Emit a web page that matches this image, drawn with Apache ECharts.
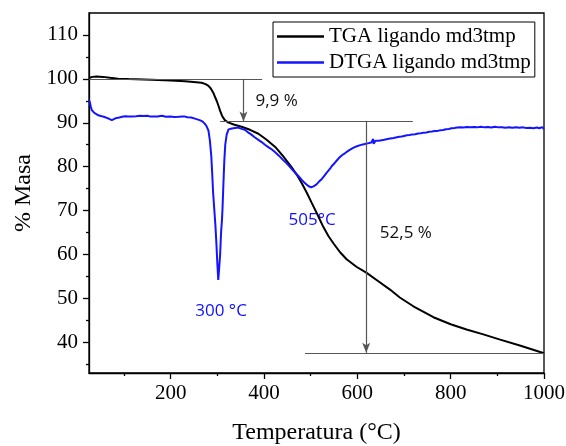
<!DOCTYPE html>
<html>
<head>
<meta charset="utf-8">
<script src="https://cdn.jsdelivr.net/npm/echarts@6/dist/echarts.min.js"></script>
<style>
html,body{margin:0;padding:0;background:#fff;}
#chart{width:566px;height:446px;}
</style>
</head>
<body>
<div id="chart"></div>
<script>
// ---- data ----
const seriesNames = ['TGA ligando md3tmp', 'DTGA ligando md3tmp'];

const tga = [[25,100.2],[32,100.45],[41,100.55],[55,100.45],[70,100.25],[87,100.05],[110,99.95],[159,99.8],[200,99.6],[231,99.45],[255,99.25],[266,99.1],[275,98.8],[281,98.4],[286,97.8],[291,96.9],[295,95.9],[299,94.9],[303,93.7],[306,92.7],[310,91.6],[316,90.6],[323,90.1],[335,89.6],[352,89.1],[370,88.4],[388,87.5],[405,86.2],[424,84.5],[440,82.5],[459,79.9],[470,78.2],[481,76.2],[492,74.0],[502,71.8],[515,69.0],[527,66.3],[538,64.2],[549,62.5],[563,60.5],[577,58.9],[598,57.2],[620,55.8],[645,53.9],[670,52.0],[691,50.2],[720,48.2],[763,45.7],[800,44.1],[834,42.9],[870,41.8],[906,40.6],[950,39.2],[1000,37.5]];

const dtga = [[25,95.2],[27,94.6],[29,93.6],[31,92.9],[35,92.4],[40,92.0],[45,91.7],[52,91.5],[58,91.3],[63,91.1],[68,90.9],[74,90.6],[78,90.7],[84,91.1],[90,91.2],[96,91.35],[102,91.5],[106,91.3],[110,91.45],[114,91.6],[118,91.45],[122,91.6],[126,91.5],[130,91.35],[134,91.6],[138,91.45],[142,91.55],[146,91.4],[150,91.6],[155,91.45],[159,91.55],[164,91.4],[168,91.6],[172,91.45],[176,91.4],[181,91.6],[185,91.5],[190,91.35],[194,91.55],[199,91.4],[203,91.45],[208,91.3],[212,91.5],[217,91.35],[221,91.3],[226,91.45],[231,91.4],[236,91.25],[240,91.2],[244,91.2],[248,91.1],[252,90.95],[255,90.8],[262,90.6],[268,90.3],[273,89.8],[277,89.2],[281,88.2],[284,86.0],[287,82.5],[289,78.5],[291,74.0],[294,69.5],[296,66.4],[298,62.5],[300,58.0],[302,54.2],[304,57.0],[306,60.0],[308,65.0],[310,68.0],[311,70.2],[313,76.0],[315,81.5],[317,85.0],[320,87.3],[324,88.5],[327,88.8],[331,88.7],[334,88.95],[338,88.8],[341,88.7],[345,88.9],[348,88.7],[352,88.6],[355,88.45],[359,88.4],[363,88.05],[366,87.8],[370,87.6],[373,87.3],[377,87.1],[380,86.7],[384,86.5],[388,86.1],[391,85.95],[395,85.6],[399,85.4],[402,85.0],[406,84.85],[410,84.4],[413,84.25],[417,83.9],[421,83.6],[424,83.3],[428,83.0],[432,82.5],[436,82.15],[440,81.6],[444,81.3],[448,80.8],[452,80.45],[455,80.0],[461,79.3],[468,78.5],[475,77.7],[481,77.0],[488,76.2],[495,75.6],[501,75.3],[506,75.5],[512,75.9],[518,76.6],[524,77.2],[530,78.0],[534,78.6],[538,79.0],[542,79.6],[545,80.1],[549,80.4],[552,80.9],[556,81.4],[560,81.9],[564,82.2],[567,82.6],[571,82.8],[574,83.1],[578,83.5],[582,83.7],[586,84.0],[590,84.2],[594,84.35],[598,84.6],[602,84.7],[606,84.9],[610,85.0],[614,85.1],[618,85.25],[622,85.3],[626,85.45],[630,85.5],[632,85.6],[634,86.3],[635,85.2],[637,85.4],[639,85.9],[642,85.85],[646,85.9],[650,86.0],[655,86.05],[660,86.2],[665,86.3],[670,86.4],[675,86.45],[680,86.6],[685,86.7],[690,86.8],[695,86.85],[700,87.0],[706,87.15],[712,87.2],[718,87.35],[724,87.4],[730,87.55],[736,87.6],[742,87.75],[748,87.8],[754,87.95],[760,88.0],[766,88.1],[772,88.15],[778,88.3],[784,88.35],[790,88.5],[796,88.6],[802,88.75],[808,88.8],[814,88.9],[820,88.95],[827,88.9],[835,89.05],[842,88.95],[850,89.05],[857,88.95],[865,89.1],[872,88.95],[880,89.05],[887,88.9],[895,89.1],[902,88.95],[910,89.0],[917,88.85],[925,88.95],[932,88.85],[940,89.0],[947,88.85],[955,88.95],[962,88.8],[970,88.85],[977,88.75],[985,88.9],[990,88.75],[993,88.7],[996,89.0],[1000,88.6]];

const xMajorTicks = [200, 400, 600, 800, 1000];
const xMinorTicks = [100, 300, 500, 700, 900];
const yMajorTicks = [40, 50, 60, 70, 80, 90, 100, 110];
const yMinorTicks = [35, 45, 55, 65, 75, 85, 95, 105];

// annotation geometry (data coordinates)
const refLines = [
  [[25, 100], [396, 100]],
  [[306, 90.3], [719, 90.3]],
  [[488, 37.6], [1000, 37.6]]
];
const arrows = [
  [[356, 100], [356, 90.3]],
  [[619, 90.3], [619, 37.6]]
];
const tempLabels = [['300 °C', 308, 47.0], ['505°C', 503, 67.9]];
const lossLabels = [['9,9 %', 427, 94.9], ['52,5 %', 704, 64.9]];

// ---- chart ----
const chart = echarts.init(document.getElementById('chart'), null, {renderer: 'canvas'});
const serif = 'Liberation Serif';
const sans = 'Open Sans';

const markLineData = [];
refLines.forEach(l => markLineData.push([{coord: l[0], symbol: 'none'}, {coord: l[1], symbol: 'none'}]));
arrows.forEach(l => markLineData.push([{coord: l[0], symbol: 'none'}, {coord: l[1], symbol: 'arrow', symbolSize: [6, 10]}]));

const plainNum = v => String(v);

const option = {
  animation: false,
  backgroundColor: '#fff',
  grid: {left: 89, right: 22, top: 13, bottom: 73, show: true, borderColor: '#000', borderWidth: 1.3, backgroundColor: 'transparent', containLabel: false, outerBoundsMode: 'none'},
  legend: {
    data: seriesNames,
    orient: 'vertical',
    left: 273, top: 22,
    padding: [4, 4, 4, 4],
    itemGap: 5,
    itemWidth: 47, itemHeight: 2.5,
    icon: 'rect',
    borderColor: '#000', borderWidth: 1,
    textStyle: {fontFamily: serif, fontSize: 21, color: '#000'}
  },
  xAxis: [{
    type: 'value', min: 25, max: 1000,
    name: 'Temperatura (°C)', nameLocation: 'middle', nameGap: 48,
    nameTextStyle: {fontFamily: serif, fontSize: 24, color: '#000'},
    axisLine: {show: true, lineStyle: {color: '#000', width: 1.3}},
    axisTick: {show: true, inside: false, length: 6, customValues: xMajorTicks, lineStyle: {color: '#000', width: 1.3}},
    axisLabel: {customValues: xMajorTicks, formatter: plainNum, fontFamily: serif, fontSize: 21, color: '#000', margin: 10},
    splitLine: {show: false}
  }, {
    type: 'value', min: 25, max: 1000, position: 'bottom', gridIndex: 0,
    axisLine: {show: false},
    axisTick: {show: true, inside: false, length: 3, customValues: xMinorTicks, lineStyle: {color: '#000', width: 1.3}},
    axisLabel: {show: false},
    splitLine: {show: false}
  }],
  yAxis: [{
    type: 'value', min: 33, max: 115,
    name: '% Masa', nameLocation: 'middle', nameGap: 53, nameRotate: 90,
    nameTextStyle: {fontFamily: serif, fontSize: 24, color: '#000'},
    axisLine: {show: true, lineStyle: {color: '#000', width: 1.3}},
    axisTick: {show: true, inside: false, length: 6, customValues: yMajorTicks, lineStyle: {color: '#000', width: 1.3}},
    axisLabel: {customValues: yMajorTicks, formatter: plainNum, fontFamily: serif, fontSize: 21, color: '#000', margin: 11},
    splitLine: {show: false}
  }, {
    type: 'value', min: 33, max: 115, position: 'left', gridIndex: 0,
    axisLine: {show: false},
    axisTick: {show: true, inside: false, length: 3, customValues: yMinorTicks, lineStyle: {color: '#000', width: 1.3}},
    axisLabel: {show: false},
    splitLine: {show: false}
  }],
  series: [{
    name: seriesNames[0], type: 'line', data: tga, showSymbol: false, symbol: 'none',
    lineStyle: {color: '#000', width: 2}, itemStyle: {color: '#000'}, z: 3
  }, {
    name: seriesNames[1], type: 'line', data: dtga, showSymbol: false, symbol: 'none',
    lineStyle: {color: '#1414ff', width: 2}, itemStyle: {color: '#1414ff'}, z: 4
  }, {
    name: 'annot', type: 'line', data: [], silent: true,
    markLine: {
      silent: true, animation: false,
      symbol: ['none', 'none'],
      label: {show: false},
      lineStyle: {color: '#555', width: 1.2, type: 'solid'},
      emphasis: {disabled: true},
      data: markLineData
    }
  }, {
    name: 'tempText', type: 'scatter', symbolSize: 0, silent: true,
    itemStyle: {opacity: 1},
    data: tempLabels.map(t => ({value: [t[1], t[2]], name: t[0]})),
    label: {show: true, position: 'inside', formatter: p => p.name, fontFamily: sans, fontSize: 17, color: '#1010ff', opacity: 1}
  }, {
    name: 'lossText', type: 'scatter', symbolSize: 0, silent: true,
    itemStyle: {opacity: 1},
    data: lossLabels.map(t => ({value: [t[1], t[2]], name: t[0]})),
    label: {show: true, position: 'inside', formatter: p => p.name, fontFamily: sans, fontSize: 17, color: '#111', opacity: 1}
  }]
};
chart.setOption(option);
</script>
</body>
</html>
